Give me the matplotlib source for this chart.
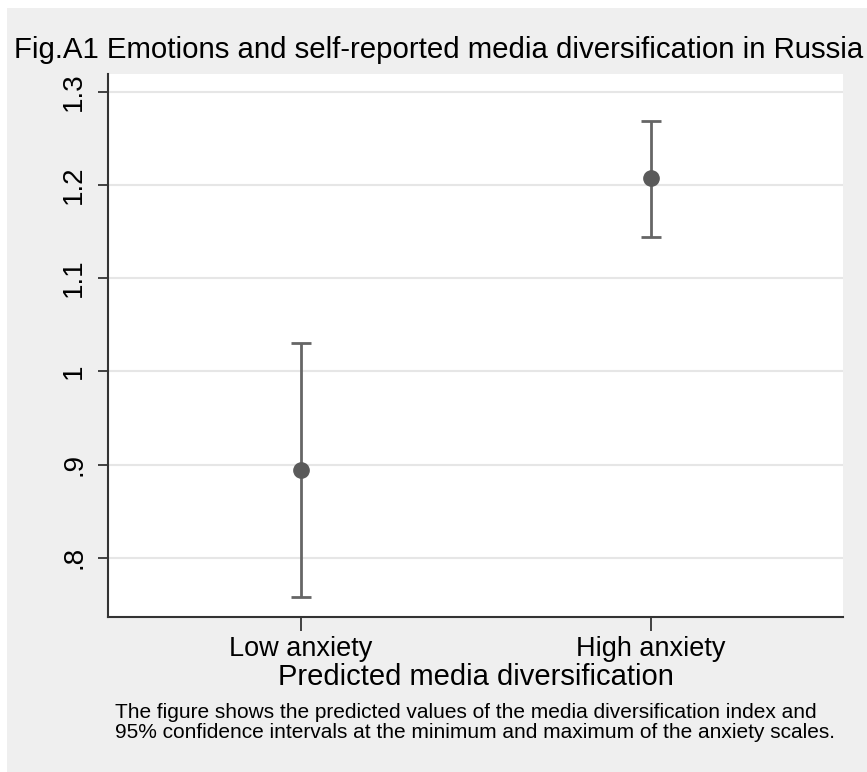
import matplotlib
matplotlib.use("Agg")
import matplotlib.pyplot as plt
from matplotlib.patches import Rectangle

plt.rcParams['font.family'] = ['Liberation Sans', 'DejaVu Sans']

# Predicted values and 95% confidence intervals
categories = ["Low anxiety", "High anxiety"]
predicted = [0.894, 1.207]
ci_low = [0.758, 1.144]
ci_high = [1.031, 1.269]
y_ticks = [0.8, 0.9, 1.0, 1.1, 1.2, 1.3]
y_tick_labels = [".8", ".9", "1", "1.1", "1.2", "1.3"]

W, H = 867, 772
fig = plt.figure(figsize=(W / 100, H / 100), dpi=100)
fig.patch.set_facecolor("white")

# Outer grey graph region
fig.add_artist(Rectangle((7 / W, 0), 1 - 7 / W, 1 - 8 / H, transform=fig.transFigure,
                         facecolor="#EFEFEF", edgecolor="none", zorder=-10))

left, right, top, bottom = 108, 843, 74, 617
ax = fig.add_axes([left / W, 1 - bottom / H, (right - left) / W, (bottom - top) / H])
ax.set_facecolor("white")

x = list(range(len(categories)))
yerr = [[p - lo for p, lo in zip(predicted, ci_low)],
        [hi - p for p, hi in zip(predicted, ci_high)]]
ax.errorbar(x, predicted, yerr=yerr, fmt="o", color="#5A5A5A", ecolor="#666666",
            elinewidth=2, capsize=7, capthick=2, markersize=11, zorder=3)

ax.set_xlim(-0.55, 1.548)
ax.set_ylim(0.7366, 1.319)
ax.set_yticks(y_ticks)
ax.set_yticklabels(y_tick_labels, rotation=90, va="center", fontsize=20)
ax.set_xticks(x)
ax.set_xticklabels(categories, fontsize=19.5)
ax.tick_params(axis="y", length=7, width=1.3, color="#333333", pad=8)
ax.tick_params(axis="x", length=10, width=1.3, color="#333333", pad=4)
ax.grid(axis="y", color="#E6E6E6", linewidth=1.5)
ax.set_axisbelow(True)
for s in ["top", "right"]:
    ax.spines[s].set_visible(False)
for s in ["left", "bottom"]:
    ax.spines[s].set_color("#333333")
    ax.spines[s].set_linewidth(1.5)

ax.set_xlabel("Predicted media diversification", fontsize=21, va="baseline")
ax.xaxis.set_label_coords(0.5, -(685 - bottom) / (bottom - top))

fig.text(14 / W, 1 - 58 / H, "Fig.A1 Emotions and self-reported media diversification in Russia",
         fontsize=21.15, ha="left", va="baseline")
caption = ["The figure shows the predicted values of the media diversification index and",
           "95% confidence intervals at the minimum and maximum of the anxiety scales."]
for line, yc in zip(caption, [712, 733]):
    fig.text(115 / W, 1 - yc / H, line, fontsize=15, ha="left", va="center")

fig.savefig("out.png", dpi=100)
